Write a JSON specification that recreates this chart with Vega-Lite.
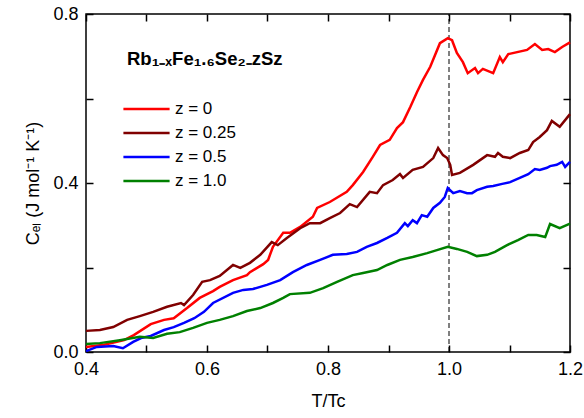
{
  "$schema": "https://vega.github.io/schema/vega-lite/v6.json",
  "width": 484,
  "height": 338,
  "autosize": {"type": "none"},
  "padding": {"left": 86, "top": 14, "right": 14, "bottom": 66},
  "config": {
    "font": "Liberation Sans",
    "view": {"stroke": "black", "strokeWidth": 1.5},
    "axis": {
      "labelColor": "black",
      "labelFontSize": 18,
      "titleColor": "black",
      "titleFontSize": 18,
      "titleFontWeight": "normal",
      "grid": false
    }
  },
  "layer": [
    {
      "data": {"values": [{"t": 1.0, "c0": 0, "c1": 0.8}]},
      "mark": {"type": "rule", "color": "black", "strokeWidth": 1, "strokeDash": [5, 3]},
      "encoding": {
        "x": {"field": "t", "type": "quantitative", "scale": {"domain": [0.4, 1.2], "nice": false, "zero": false},
              "axis": {"orient": "top", "labels": false, "title": null, "domain": false, "offset": -7, "ticks": true, "tickSize": 7, "tickWidth": 1.5, "tickColor": "#000000", "tickOpacity": 1,
                       "values": [0.4,0.5,0.6,0.7,0.8,0.9,1.0,1.1,1.2]}},
        "y": {"field": "c0", "type": "quantitative", "scale": {"domain": [0, 0.8], "nice": false},
              "axis": {"orient": "right", "labels": false, "title": null, "domain": false, "offset": -7, "ticks": true, "tickSize": 7, "tickWidth": 1.5, "tickColor": "#000000", "tickOpacity": 1,
                       "values": [0,0.2,0.4,0.6,0.8]}},
        "y2": {"field": "c1"}
      }
    },
    {
      "data": {"values": [
        {"z":"z = 0","t":0.400,"c":0.012},{"z":"z = 0","t":0.430,"c":0.017},{"z":"z = 0","t":0.463,"c":0.028},{"z":"z = 0","t":0.479,"c":0.040},
        {"z":"z = 0","t":0.507,"c":0.066},{"z":"z = 0","t":0.529,"c":0.076},{"z":"z = 0","t":0.545,"c":0.080},{"z":"z = 0","t":0.567,"c":0.104},
        {"z":"z = 0","t":0.588,"c":0.128},{"z":"z = 0","t":0.610,"c":0.144},{"z":"z = 0","t":0.621,"c":0.154},{"z":"z = 0","t":0.643,"c":0.170},
        {"z":"z = 0","t":0.666,"c":0.182},{"z":"z = 0","t":0.671,"c":0.189},{"z":"z = 0","t":0.693,"c":0.208},{"z":"z = 0","t":0.701,"c":0.218},
        {"z":"z = 0","t":0.709,"c":0.249},{"z":"z = 0","t":0.726,"c":0.282},{"z":"z = 0","t":0.737,"c":0.282},{"z":"z = 0","t":0.754,"c":0.296},
        {"z":"z = 0","t":0.775,"c":0.320},{"z":"z = 0","t":0.782,"c":0.341},{"z":"z = 0","t":0.803,"c":0.355},{"z":"z = 0","t":0.831,"c":0.379},
        {"z":"z = 0","t":0.841,"c":0.395},{"z":"z = 0","t":0.858,"c":0.426},{"z":"z = 0","t":0.874,"c":0.462},{"z":"z = 0","t":0.886,"c":0.490},
        {"z":"z = 0","t":0.902,"c":0.502},{"z":"z = 0","t":0.914,"c":0.530},{"z":"z = 0","t":0.924,"c":0.544},{"z":"z = 0","t":0.936,"c":0.580},
        {"z":"z = 0","t":0.947,"c":0.615},{"z":"z = 0","t":0.957,"c":0.644},{"z":"z = 0","t":0.969,"c":0.675},{"z":"z = 0","t":0.985,"c":0.731},
        {"z":"z = 0","t":0.998,"c":0.743},{"z":"z = 0","t":1.005,"c":0.738},{"z":"z = 0","t":1.013,"c":0.708},{"z":"z = 0","t":1.023,"c":0.686},
        {"z":"z = 0","t":1.031,"c":0.660},{"z":"z = 0","t":1.043,"c":0.672},{"z":"z = 0","t":1.048,"c":0.660},{"z":"z = 0","t":1.056,"c":0.670},
        {"z":"z = 0","t":1.073,"c":0.660},{"z":"z = 0","t":1.084,"c":0.698},{"z":"z = 0","t":1.089,"c":0.686},{"z":"z = 0","t":1.098,"c":0.705},
        {"z":"z = 0","t":1.129,"c":0.715},{"z":"z = 0","t":1.142,"c":0.729},{"z":"z = 0","t":1.154,"c":0.715},{"z":"z = 0","t":1.164,"c":0.717},
        {"z":"z = 0","t":1.175,"c":0.710},{"z":"z = 0","t":1.187,"c":0.722},{"z":"z = 0","t":1.200,"c":0.733},

        {"z":"z = 0.25","t":0.400,"c":0.050},{"z":"z = 0.25","t":0.423,"c":0.052},{"z":"z = 0.25","t":0.445,"c":0.059},{"z":"z = 0.25","t":0.468,"c":0.076},
        {"z":"z = 0.25","t":0.489,"c":0.085},{"z":"z = 0.25","t":0.511,"c":0.095},{"z":"z = 0.25","t":0.534,"c":0.107},{"z":"z = 0.25","t":0.557,"c":0.116},
        {"z":"z = 0.25","t":0.562,"c":0.111},{"z":"z = 0.25","t":0.577,"c":0.135},{"z":"z = 0.25","t":0.592,"c":0.166},{"z":"z = 0.25","t":0.605,"c":0.170},
        {"z":"z = 0.25","t":0.621,"c":0.180},{"z":"z = 0.25","t":0.643,"c":0.206},{"z":"z = 0.25","t":0.655,"c":0.199},{"z":"z = 0.25","t":0.671,"c":0.211},
        {"z":"z = 0.25","t":0.688,"c":0.230},{"z":"z = 0.25","t":0.707,"c":0.260},{"z":"z = 0.25","t":0.717,"c":0.253},{"z":"z = 0.25","t":0.732,"c":0.270},
        {"z":"z = 0.25","t":0.754,"c":0.293},{"z":"z = 0.25","t":0.770,"c":0.305},{"z":"z = 0.25","t":0.787,"c":0.305},{"z":"z = 0.25","t":0.803,"c":0.317},
        {"z":"z = 0.25","t":0.820,"c":0.329},{"z":"z = 0.25","t":0.836,"c":0.350},{"z":"z = 0.25","t":0.848,"c":0.343},{"z":"z = 0.25","t":0.869,"c":0.379},
        {"z":"z = 0.25","t":0.881,"c":0.376},{"z":"z = 0.25","t":0.891,"c":0.395},{"z":"z = 0.25","t":0.907,"c":0.407},{"z":"z = 0.25","t":0.919,"c":0.421},
        {"z":"z = 0.25","t":0.924,"c":0.412},{"z":"z = 0.25","t":0.940,"c":0.431},{"z":"z = 0.25","t":0.957,"c":0.438},{"z":"z = 0.25","t":0.974,"c":0.459},
        {"z":"z = 0.25","t":0.982,"c":0.483},{"z":"z = 0.25","t":0.990,"c":0.466},{"z":"z = 0.25","t":0.997,"c":0.459},{"z":"z = 0.25","t":1.002,"c":0.443},
        {"z":"z = 0.25","t":1.005,"c":0.419},{"z":"z = 0.25","t":1.018,"c":0.424},{"z":"z = 0.25","t":1.040,"c":0.443},{"z":"z = 0.25","t":1.063,"c":0.466},
        {"z":"z = 0.25","t":1.076,"c":0.462},{"z":"z = 0.25","t":1.081,"c":0.471},{"z":"z = 0.25","t":1.089,"c":0.462},{"z":"z = 0.25","t":1.101,"c":0.459},
        {"z":"z = 0.25","t":1.117,"c":0.471},{"z":"z = 0.25","t":1.131,"c":0.478},{"z":"z = 0.25","t":1.139,"c":0.497},{"z":"z = 0.25","t":1.150,"c":0.509},
        {"z":"z = 0.25","t":1.162,"c":0.525},{"z":"z = 0.25","t":1.170,"c":0.547},{"z":"z = 0.25","t":1.183,"c":0.533},{"z":"z = 0.25","t":1.200,"c":0.563},

        {"z":"z = 0.5","t":0.400,"c":0.002},{"z":"z = 0.5","t":0.418,"c":0.012},{"z":"z = 0.5","t":0.445,"c":0.014},{"z":"z = 0.5","t":0.461,"c":0.009},
        {"z":"z = 0.5","t":0.478,"c":0.024},{"z":"z = 0.5","t":0.491,"c":0.033},{"z":"z = 0.5","t":0.507,"c":0.038},{"z":"z = 0.5","t":0.529,"c":0.052},
        {"z":"z = 0.5","t":0.545,"c":0.059},{"z":"z = 0.5","t":0.562,"c":0.069},{"z":"z = 0.5","t":0.579,"c":0.080},{"z":"z = 0.5","t":0.595,"c":0.095},
        {"z":"z = 0.5","t":0.610,"c":0.116},{"z":"z = 0.5","t":0.643,"c":0.140},{"z":"z = 0.5","t":0.660,"c":0.147},{"z":"z = 0.5","t":0.676,"c":0.149},
        {"z":"z = 0.5","t":0.699,"c":0.159},{"z":"z = 0.5","t":0.721,"c":0.170},{"z":"z = 0.5","t":0.742,"c":0.189},{"z":"z = 0.5","t":0.765,"c":0.206},
        {"z":"z = 0.5","t":0.787,"c":0.218},{"z":"z = 0.5","t":0.808,"c":0.230},{"z":"z = 0.5","t":0.831,"c":0.232},{"z":"z = 0.5","t":0.848,"c":0.237},
        {"z":"z = 0.5","t":0.864,"c":0.249},{"z":"z = 0.5","t":0.881,"c":0.258},{"z":"z = 0.5","t":0.898,"c":0.270},{"z":"z = 0.5","t":0.914,"c":0.282},
        {"z":"z = 0.5","t":0.927,"c":0.305},{"z":"z = 0.5","t":0.932,"c":0.298},{"z":"z = 0.5","t":0.940,"c":0.312},{"z":"z = 0.5","t":0.947,"c":0.305},
        {"z":"z = 0.5","t":0.955,"c":0.324},{"z":"z = 0.5","t":0.964,"c":0.320},{"z":"z = 0.5","t":0.974,"c":0.341},{"z":"z = 0.5","t":0.985,"c":0.353},
        {"z":"z = 0.5","t":0.993,"c":0.367},{"z":"z = 0.5","t":0.998,"c":0.388},{"z":"z = 0.5","t":1.007,"c":0.376},{"z":"z = 0.5","t":1.018,"c":0.381},
        {"z":"z = 0.5","t":1.030,"c":0.376},{"z":"z = 0.5","t":1.038,"c":0.376},{"z":"z = 0.5","t":1.046,"c":0.383},{"z":"z = 0.5","t":1.063,"c":0.391},
        {"z":"z = 0.5","t":1.073,"c":0.393},{"z":"z = 0.5","t":1.088,"c":0.398},{"z":"z = 0.5","t":1.101,"c":0.402},{"z":"z = 0.5","t":1.117,"c":0.412},
        {"z":"z = 0.5","t":1.131,"c":0.421},{"z":"z = 0.5","t":1.142,"c":0.433},{"z":"z = 0.5","t":1.150,"c":0.431},{"z":"z = 0.5","t":1.162,"c":0.436},
        {"z":"z = 0.5","t":1.167,"c":0.440},{"z":"z = 0.5","t":1.178,"c":0.443},{"z":"z = 0.5","t":1.187,"c":0.450},{"z":"z = 0.5","t":1.192,"c":0.438},
        {"z":"z = 0.5","t":1.200,"c":0.450},

        {"z":"z = 1.0","t":0.400,"c":0.019},{"z":"z = 1.0","t":0.423,"c":0.021},{"z":"z = 1.0","t":0.456,"c":0.028},{"z":"z = 1.0","t":0.489,"c":0.036},
        {"z":"z = 1.0","t":0.511,"c":0.033},{"z":"z = 1.0","t":0.534,"c":0.043},{"z":"z = 1.0","t":0.555,"c":0.047},{"z":"z = 1.0","t":0.577,"c":0.057},
        {"z":"z = 1.0","t":0.600,"c":0.069},{"z":"z = 1.0","t":0.621,"c":0.076},{"z":"z = 1.0","t":0.643,"c":0.085},{"z":"z = 1.0","t":0.666,"c":0.097},
        {"z":"z = 1.0","t":0.688,"c":0.104},{"z":"z = 1.0","t":0.709,"c":0.116},{"z":"z = 1.0","t":0.726,"c":0.128},{"z":"z = 1.0","t":0.737,"c":0.137},
        {"z":"z = 1.0","t":0.770,"c":0.140},{"z":"z = 1.0","t":0.792,"c":0.151},{"z":"z = 1.0","t":0.815,"c":0.166},{"z":"z = 1.0","t":0.841,"c":0.182},
        {"z":"z = 1.0","t":0.858,"c":0.187},{"z":"z = 1.0","t":0.881,"c":0.194},{"z":"z = 1.0","t":0.898,"c":0.206},{"z":"z = 1.0","t":0.919,"c":0.218},
        {"z":"z = 1.0","t":0.940,"c":0.225},{"z":"z = 1.0","t":0.964,"c":0.234},{"z":"z = 1.0","t":0.980,"c":0.241},{"z":"z = 1.0","t":0.998,"c":0.249},
        {"z":"z = 1.0","t":1.013,"c":0.244},{"z":"z = 1.0","t":1.030,"c":0.237},{"z":"z = 1.0","t":1.046,"c":0.227},{"z":"z = 1.0","t":1.063,"c":0.230},
        {"z":"z = 1.0","t":1.076,"c":0.237},{"z":"z = 1.0","t":1.096,"c":0.253},{"z":"z = 1.0","t":1.114,"c":0.265},{"z":"z = 1.0","t":1.131,"c":0.277},
        {"z":"z = 1.0","t":1.145,"c":0.277},{"z":"z = 1.0","t":1.159,"c":0.272},{"z":"z = 1.0","t":1.167,"c":0.303},{"z":"z = 1.0","t":1.183,"c":0.293},
        {"z":"z = 1.0","t":1.200,"c":0.304}
      ]},
      "mark": {"type": "line", "strokeWidth": 2.5},
      "encoding": {
        "x": {"field": "t", "type": "quantitative", "scale": {"domain": [0.4, 1.2], "nice": false, "zero": false},
              "axis": {"orient": "bottom", "title": "T/Tc", "domain": false, "offset": -7, "ticks": true, "tickSize": 7, "tickWidth": 1.5, "tickColor": "#000000", "tickOpacity": 1,
                       "labelFlush": false, "labelOverlap": false,
                       "values": [0.4,0.5,0.6,0.7,0.8,0.9,1.0,1.1,1.2], "format": ".1f",
                       "labelExpr": "round(datum.value*10) % 2 == 0 ? datum.label : ''", "labelPadding": 8, "titlePadding": 14}},
        "y": {"field": "c", "type": "quantitative", "scale": {"domain": [0, 0.8], "nice": false},
              "axis": {"orient": "left", "title": "Cₑₗ (J mol⁻¹ K⁻¹)", "domain": false, "offset": -7, "ticks": true, "tickSize": 7, "tickWidth": 1.5, "tickColor": "#000000", "tickOpacity": 1,
                       "labelFlush": false, "labelOverlap": false,
                       "values": [0,0.2,0.4,0.6,0.8], "format": ".1f",
                       "labelExpr": "round(datum.value*10) % 4 == 0 ? datum.label : ''", "labelPadding": 8, "titlePadding": 10}},
        "color": {"field": "z", "type": "nominal",
                  "scale": {"domain": ["z = 0", "z = 0.25", "z = 0.5", "z = 1.0"], "range": ["#ff0000", "#800000", "#0000ff", "#008000"]},
                  "legend": {"orient": "none", "legendX": 41, "legendY": 36, "title": "Rb₁₋ₓFe₁.₆Se₂₋zSz",
                             "titleFontSize": 18.5, "titleFontWeight": "bold", "titleColor": "black", "titlePadding": 25,
                             "symbolType": "M-1.65,0H1.65", "symbolSize": 784, "symbolStrokeWidth": 2.5, "symbolOffset": 4,
                             "labelFontSize": 17, "labelColor": "black", "labelOffset": 13, "rowPadding": 0}}
      }
    }
  ],
  "resolve": {"axis": {"x": "independent", "y": "independent"}}
}
